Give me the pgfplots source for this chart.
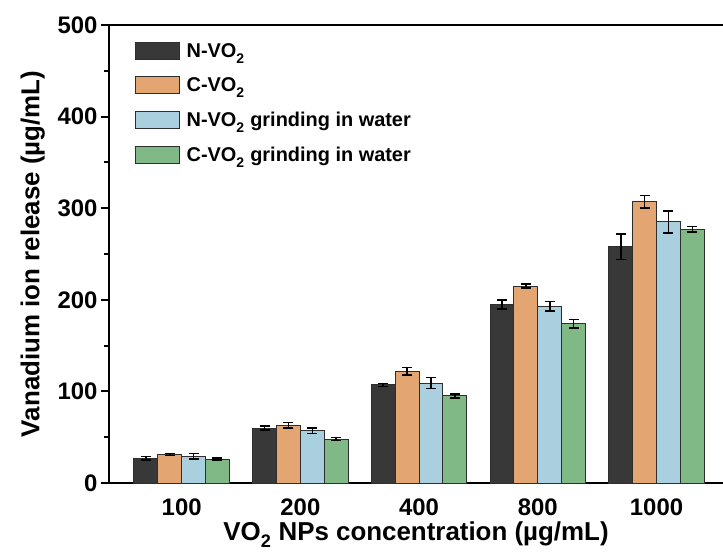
\documentclass[border=0pt]{standalone}
\usepackage{fontspec}
\setmainfont{Liberation Sans}
\usepackage{pgfplots}
\usepackage{pgfplotstable}
\pgfplotsset{compat=1.18}
\definecolor{cN}{HTML}{383838}
\definecolor{cC}{HTML}{E3A572}
\definecolor{cNW}{HTML}{AAD0E0}
\definecolor{cCW}{HTML}{80B985}
\definecolor{edge}{HTML}{2E2E2E}
\newcommand{\sub}[1]{\raisebox{-0.3ex}{\textsubscript{#1}}}
\newcommand{\subl}[1]{\raisebox{-0.2ex}{\textsubscript{#1}}}
\pgfplotstableread{
x y e
0 27 2
1 60 2
2 107 1.5
3 195 5
4 258 14
}\tN
\pgfplotstableread{
x y e
0 31 1
1 63 3
2 122 4
3 215 2
4 307 7
}\tC
\pgfplotstableread{
x y e
0 29 3
1 57 3
2 109 6
3 193 5
4 285 12
}\tNW
\pgfplotstableread{
x y e
0 26 1
1 48 1.5
2 95 2
3 174 4.5
4 277 3
}\tCW
\begin{document}
\begin{tikzpicture}
\begin{axis}[
  scale only axis, width=614bp, height=458bp,
  xmin=-0.612, xmax=4.56, ymin=0, ymax=500,
  axis x line*=box, axis y line*=left,
  axis line style={-, line width=2.5bp},
  ytick={0,100,...,500}, minor y tick num=1,
  ytick pos=left, tick align=outside,
  major tick length=8bp, minor tick length=5bp,
  every tick/.style={line width=2bp, black},
  xtick={0,1,2,3,4}, xticklabels={100,200,400,800,1000},
  xtick pos=bottom, major x tick style={draw=none},
  /pgf/number format/assume math mode=true,
  tick label style={font=\fontsize{24}{28}\selectfont\bfseries},
  xticklabel style={yshift=-4bp},
  label style={font=\fontsize{26}{30}\selectfont\bfseries},
  xlabel={VO\subl{2} NPs concentration (µg/mL)},
  ylabel={Vanadium ion release (µg/mL)},
  xlabel style={yshift=-1.5bp, inner ysep=1bp},
  ylabel style={yshift=6bp},
  ybar, bar width=0.201,
  every axis plot/.append style={draw=edge, line width=1bp,
    error bars/y dir=both, error bars/y explicit,
    error bars/error bar style={line width=1.6bp, black},
    error bars/error mark options={rotate=90, mark size=5bp, line width=1.6bp, black}},
  legend image code/.code={\draw[#1] (0bp,-8.5bp) rectangle (44bp,8.5bp);},
  legend cell align=left,
  legend style={at={(0,1)}, anchor=north west, xshift=23bp, yshift=-14bp,
    draw=none, fill=none, row sep=15bp,
    nodes={inner xsep=6.5bp},
    font=\fontsize{20}{24}\selectfont\bfseries},
]
\addplot[fill=cN, bar shift=-0.3015] table[x=x, y=y, y error=e] {\tN};
\addlegendentry{N-VO\sub{2}}
\addplot[fill=cC, bar shift=-0.1005] table[x=x, y=y, y error=e] {\tC};
\addlegendentry{C-VO\sub{2}}
\addplot[fill=cNW, bar shift=0.1005] table[x=x, y=y, y error=e] {\tNW};
\addlegendentry{N-VO\sub{2} grinding in water}
\addplot[fill=cCW, bar shift=0.3015] table[x=x, y=y, y error=e] {\tCW};
\addlegendentry{C-VO\sub{2} grinding in water}
\end{axis}
\pgfresetboundingbox
\path (current axis.south west) ++(-109bp,-72bp) rectangle ++(723bp,555bp);
\end{tikzpicture}
\end{document}
